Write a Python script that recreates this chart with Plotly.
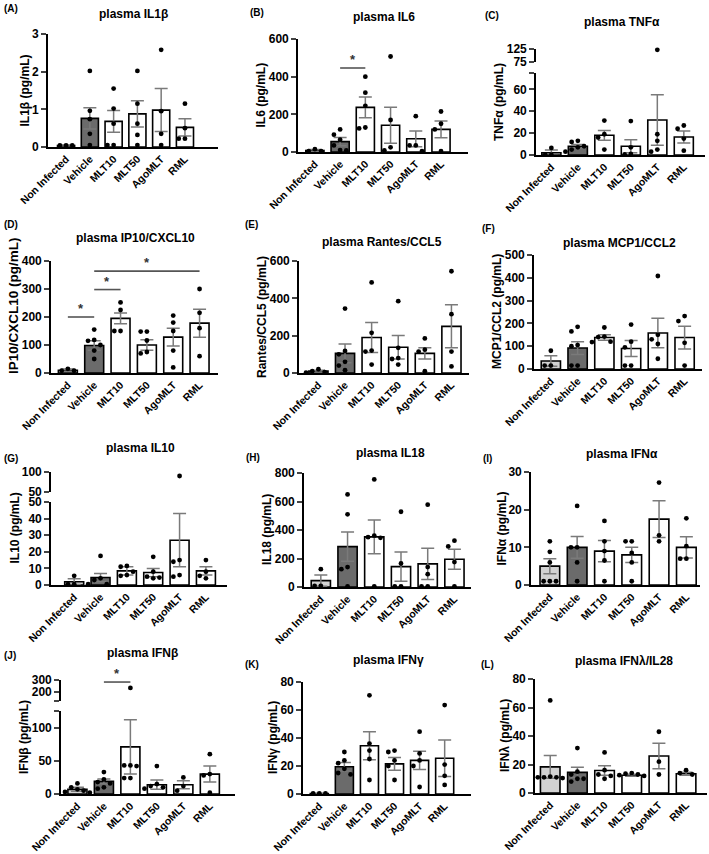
import plotly.graph_objects as go

W, H = 709, 854
groups = ["Non Infected", "Vehicle", "MLT10", "MLT50", "AgoMLT", "RML"]

# ---------------- data ----------------
il1b_mean = [0.04, 0.76, 0.68, 0.88, 0.98, 0.52]
il1b_sem = [0.01, 0.28, 0.29, 0.35, 0.57, 0.23]
il1b_pts = [[0.04, 0.04, 0.04], [2.02, 0.96, 0.74, 0.35, 0.05], [1.55, 1.02, 0.62, 0.05, 0.05],
            [2.02, 1.15, 0.62, 0.32, 0.05], [2.58, 0.95, 0.35, 0.05], [1.15, 0.5, 0.22, 0.22]]

il6_mean = [8, 55, 237, 142, 70, 120]
il6_sem = [5, 22, 55, 96, 42, 45]
il6_pts = [[15, 5, 5], [120, 92, 65, 35, 10, 8], [400, 315, 245, 130, 125],
           [507, 170, 25, 8], [190, 35, 35, 5], [215, 150, 120, 5]]

tnf_mean = [2, 8, 18, 8, 32, 16.5]
tnf_sem = [2.5, 1.5, 4.5, 6, 23, 5.5]
tnf_pts = [[6.5, 0.3, 0.3], [13, 12, 8, 7, 5, 3], [31.5, 19, 16, 5],
           [31, 7, 1, 0.5], [122, 19, 13, 5, 3], [27, 24, 15, 4]]

ip10_mean = [10, 98, 195, 100, 128, 178]
ip10_sem = [4, 17, 19, 19, 32, 50]
ip10_pts = [[15, 8, 8], [155, 118, 115, 100, 80, 50], [252, 225, 150, 150],
            [148, 148, 116, 75, 70], [205, 180, 150, 80, 20], [300, 215, 160, 60]]

rantes_mean = [10, 105, 190, 138, 105, 250]
rantes_sem = [5, 50, 80, 63, 30, 115]
rantes_pts = [[20, 10, 5, 2], [345, 118, 100, 60, 40, 15], [485, 215, 120, 115, 45],
              [385, 135, 80, 75, 45], [185, 125, 115, 10], [545, 315, 115, 35]]

mcp1_mean = [35, 92, 138, 90, 158, 138]
mcp1_sem = [23, 28, 12, 35, 65, 50]
mcp1_pts = [[80, 15, 15], [185, 165, 105, 100, 15, 15], [182, 142, 140, 120, 118],
            [195, 120, 95, 15, 15], [408, 150, 130, 110, 45], [232, 210, 115, 15]]

il10_mean = [2, 4.5, 8.5, 7.5, 27, 8.5]
il10_sem = [1.7, 2.5, 2.5, 2.5, 16, 2.5]
il10_pts = [[5.5, 0.5, 0.5], [17.5, 4, 3, 0.5, 0.5], [11.5, 11, 8, 6, 5.5],
            [17, 8, 5, 4.5, 4], [90, 15, 14, 6, 5], [15, 8, 5.5, 4]]

il18_mean = [45, 283, 352, 143, 162, 195]
il18_sem = [40, 103, 118, 102, 110, 70]
il18_pts = [[125, 8, 8], [650, 510, 140, 125, 5], [755, 360, 350, 345, 5],
            [528, 165, 5, 5], [578, 140, 90, 5, 5], [325, 285, 175, 5]]

ifna_mean = [5, 10, 9, 8, 17.5, 10]
ifna_sem = [2, 2.9, 2.8, 2, 4.9, 2.8]
ifna_pts = [[11.6, 8.8, 6, 1, 1, 1], [21, 10, 10, 6, 1], [17, 11.6, 9, 6.5, 1],
            [11.6, 11.6, 8.5, 6, 1], [27.2, 13.2, 11.6], [17.7, 10.3, 7, 7]]

ifnb_mean = [7, 19, 71, 14, 14, 30]
ifnb_sem = [3, 3.5, 41, 7, 6, 12]
ifnb_pts = [[16, 10, 7, 5, 3, 2], [33, 22, 18, 16, 10, 8], [234, 43, 43, 42, 24, 24],
            [42, 15, 12, 10, 8], [25, 12, 5], [60, 30, 28, 2]]

ifng_mean = [0.3, 19.5, 34.5, 21.5, 24, 25.5]
ifng_sem = [0, 3, 10, 4.5, 6.5, 13]
ifng_pts = [[0.5, 0.5, 0.5], [30, 24, 22, 18, 15, 14], [70.5, 36, 31, 25, 10],
            [31, 30, 24, 20, 10], [44.5, 29, 24, 20, 5], [63.5, 21, 13, 6.5]]

ifnl_mean = [18.3, 14.5, 15.8, 12.5, 26, 13.5]
ifnl_sem = [8, 3.5, 3.3, 0.7, 9, 1]
ifnl_pts = [[65, 11.5, 11, 11, 11, 10.5], [31.5, 15, 13, 10, 10, 8], [28.5, 16, 13, 12, 10],
            [14, 13.5, 13, 12.5, 12], [43, 22, 13], [16, 14, 13]]

# significance brackets: (group i, group j, value, segment index)
ip10_sig = [(0, 1, 200, 0), (1, 2, 298, 0), (1, 5, 364, 0)]
il6_sig = [(1, 2, 446, 0)]
ifnb_sig = [(1, 2, 283, 1)]

# ---------------- layout of panels (pixel geometry) ----------------
panels = [
    dict(letter="(A)", title="plasma IL1β", ytitle="IL1β (pg/mL)", mean=il1b_mean, sem=il1b_sem, pts=il1b_pts,
         xl=48, xr=218, xrng=(-0.76, 6.39), segs=[(0, 3, 147, 34, [0, 1, 2, 3], None)],
         lpos=(2, 8), tpos=(133, 14), sig=[]),
    dict(letter="(B)", title="plasma IL6", ytitle="IL6 (pg/mL)", mean=il6_mean, sem=il6_sem, pts=il6_pts,
         xl=298, xr=468, xrng=(-0.67, 6.07), segs=[(0, 600, 152, 39, [0, 200, 400, 600], None)],
         lpos=(248, 12), tpos=(384, 17), sig=il6_sig),
    dict(letter="(C)", title="plasma TNFα", ytitle="TNFα (pg/mL)", mean=tnf_mean, sem=tnf_sem, pts=tnf_pts,
         xl=536, xr=705, xrng=(-0.58, 5.8),
         segs=[(0, 75, 155, 73, [0, 20, 40, 60, 75], ["0", "20", "40", "60", ""]),
               (75, 125, 62, 49, [75, 125], ["75", "125"])], lpos=(483, 15), tpos=(622, 22), sig=[]),
    dict(letter="(D)", title="plasma IP10/CXCL10", ytitle="IP10/CXCL10 (pg/mL)", mean=ip10_mean, sem=ip10_sem,
         pts=ip10_pts, xl=51, xr=218, xrng=(-0.64, 5.7), segs=[(0, 400, 373, 261, [0, 100, 200, 300, 400], None)],
         lpos=(2, 225), tpos=(135, 238), sig=ip10_sig, ysz=13.5, ycen=306),
    dict(letter="(E)", title="plasma Rantes/CCL5", ytitle="Rantes/CCL5 (pg/mL)", mean=rantes_mean, sem=rantes_sem,
         pts=rantes_pts, xl=299, xr=469, xrng=(-0.73, 5.66), segs=[(0, 600, 373, 261, [0, 200, 400, 600], None)],
         lpos=(243, 225), tpos=(382, 242), sig=[]),
    dict(letter="(F)", title="plasma MCP1/CCL2", ytitle="MCP1/CCL2 (pg/mL)", mean=mcp1_mean, sem=mcp1_sem,
         pts=mcp1_pts, xl=534, xr=702, xrng=(-0.63, 5.65),
         segs=[(0, 500, 369, 255, [0, 100, 200, 300, 400, 500], None)], lpos=(480, 228), tpos=(619, 243), sig=[]),
    dict(letter="(G)", title="plasma IL10", ytitle="IL10 (pg/mL)", mean=il10_mean, sem=il10_sem, pts=il10_pts,
         xl=51, xr=227, xrng=(-0.88, 5.8), segs=[(0, 50, 585, 502, [0, 10, 20, 30, 40, 50], None),
                                                  (50, 100, 492, 472, [50, 100], None)],
         lpos=(2, 458), tpos=(140, 448), sig=[]),
    dict(letter="(H)", title="plasma IL18", ytitle="IL18 (pg/mL)", mean=il18_mean, sem=il18_sem, pts=il18_pts,
         xl=304, xr=471, xrng=(-0.63, 5.62), segs=[(0, 800, 587, 473, [0, 200, 400, 600, 800], None)],
         lpos=(244, 457), tpos=(390, 453), sig=[]),
    dict(letter="(I)", title="plasma IFNα", ytitle="IFNα (pg/mL)", mean=ifna_mean, sem=ifna_sem, pts=ifna_pts,
         xl=531, xr=700, xrng=(-0.69, 5.5), segs=[(0, 30, 585, 472, [0, 10, 20, 30], None)],
         lpos=(481, 458), tpos=(622, 454), sig=[]),
    dict(letter="(J)", title="plasma IFNβ", ytitle="IFNβ (pg/mL)", mean=ifnb_mean, sem=ifnb_sem, pts=ifnb_pts,
         xl=61, xr=235, xrng=(-0.62, 5.95),
         segs=[(0, 125, 794, 711, [0, 50, 100, 125], ["0", "50", "100", ""]),
               (125, 300, 701, 680, [125, 200, 300], ["", "200", "300"])], lpos=(2, 655), tpos=(142, 653),
         sig=ifnb_sig),
    dict(letter="(K)", title="plasma IFNγ", ytitle="IFNγ (pg/mL)", mean=ifng_mean, sem=ifng_sem, pts=ifng_pts,
         xl=303, xr=471, xrng=(-0.65, 6.05), segs=[(0, 80, 794, 682, [0, 20, 40, 60, 80], None)],
         lpos=(243, 664), tpos=(388, 660), sig=[]),
    dict(letter="(L)", title="plasma IFNλ/IL28", ytitle="IFNλ (pg/mL)", mean=ifnl_mean, sem=ifnl_sem, pts=ifnl_pts,
         xl=535, xr=707, xrng=(-0.56, 5.77), segs=[(0, 80, 793, 679, [0, 20, 40, 60, 80], None)],
         lpos=(479, 664), tpos=(624, 661), sig=[]),
]

FONT = "Liberation Sans, Arial, Helvetica, sans-serif"
bar_fill = ["#d2d2d2", "#6b6b6b", "white", "white", "white", "white"]
DOT = 4.8
STEP = 6.2

fig = go.Figure()
layout = dict(template="none", width=W, height=H, margin=dict(l=0, r=0, t=0, b=0, pad=0, autoexpand=False),
              showlegend=False, paper_bgcolor="white", plot_bgcolor="rgba(0,0,0,0)",
              font=dict(family=FONT, color="black"), bargap=0.28)
annotations = []
shapes = []


def sid(n):
    return "" if n == 1 else str(n)


def px_of(v, segs):
    for lo, hi, pb, pt, *_ in segs:
        if v <= hi or (lo, hi) == segs[-1][:2]:
            return (H - pb) + (min(v, hi) - lo) / (hi - lo) * (pb - pt)
    return 0


def swarm(vals, segs, px_per_x):
    placed = []
    res = [0.0] * len(vals)
    order = sorted(range(len(vals)), key=lambda k: -vals[k])
    for k in order:
        y = px_of(vals[k], segs)
        xo = 0
        for m in [0, -1, 1, -2, 2, -3, 3, -4, 4]:
            xo = m * STEP
            if all((xo - a) ** 2 + (y - b) ** 2 >= (STEP * 0.95) ** 2 for a, b in placed):
                break
        placed.append((xo, y))
        res[k] = xo / px_per_x
    return res


xc = 0
yc = 0
for p in panels:
    xc += 1
    xid = sid(xc)
    segs = p["segs"]
    xr0, xr1 = p["xrng"]
    yids = []
    for _ in segs:
        yc += 1
        yids.append(sid(yc))
    lower = yids[0]
    layout["xaxis" + xid] = dict(domain=[p["xl"] / W, p["xr"] / W], range=[xr0, xr1], anchor="y" + lower,
                                 tickmode="array", tickvals=list(range(6)), ticktext=groups, tickangle=-45,
                                 tickfont=dict(size=10.5, family=FONT, weight="bold"), showline=True, linewidth=1.6,
                                 linecolor="black", ticks="", ticklabelstandoff=0,
                                 showgrid=False, zeroline=False, fixedrange=True, automargin=False)
    for (lo, hi, pb, pt, tv, tt), yid in zip(segs, yids):
        ax = dict(domain=[1 - pb / H, 1 - pt / H], range=[lo, hi], anchor="x" + xid, showline=True, linewidth=1.6,
                  linecolor="black", ticks="outside", ticklen=5, tickwidth=1.6, showgrid=False, zeroline=False,
                  tickmode="array", tickvals=tv, tickfont=dict(size=12, family=FONT, weight="bold"),
                  fixedrange=True, automargin=False)
        ax["ticktext"] = tt if tt is not None else [str(v) for v in tv]
        layout["yaxis" + yid] = ax

    # bars with SEM error bars
    fig.add_trace(go.Bar(x=list(range(6)), y=p["mean"], xaxis="x" + xid, yaxis="y" + lower,
                         marker=dict(color=bar_fill, line=dict(color="black", width=1.6)),
                         error_y=dict(type="data", array=p["sem"], visible=True, color="#7a7a7a",
                                      thickness=1.5, width=6.5)))

    # individual points
    px_per_x = (p["xr"] - p["xl"]) / (xr1 - xr0)
    seg_x = [[] for _ in segs]
    seg_y = [[] for _ in segs]
    for g, vals in enumerate(p["pts"]):
        offs = swarm(vals, segs, px_per_x)
        for v, o in zip(vals, offs):
            si = 0
            for k, s in enumerate(segs):
                if k > 0 and v > s[0]:
                    si = k
            seg_x[si].append(g + o)
            seg_y[si].append(v)
    for k, yid in enumerate(yids):
        if seg_x[k]:
            fig.add_trace(go.Scatter(x=seg_x[k], y=seg_y[k], mode="markers", xaxis="x" + xid, yaxis="y" + yid,
                                     marker=dict(color="black", size=DOT), cliponaxis=False, hoverinfo="skip"))

    # significance bars
    for i, j, v, si in p["sig"]:
        yid = yids[si]
        shapes.append(dict(type="line", xref="x" + xid, yref="y" + yid, x0=i, x1=j, y0=v, y1=v,
                           line=dict(color="#555555", width=1.6)))
        annotations.append(dict(x=(i + j) / 2, y=v, xref="x" + xid, yref="y" + yid, text="<b>*</b>",
                                showarrow=False, yanchor="bottom", yshift=-1, font=dict(size=13, color="#333333")))

    # titles / labels
    annotations.append(dict(x=p["tpos"][0] / W, y=1 - p["tpos"][1] / H, xref="paper", yref="paper",
                            text="<b>" + p["title"] + "</b>", showarrow=False, xanchor="center", yanchor="middle",
                            font=dict(size=12, family=FONT)))
    annotations.append(dict(x=p["lpos"][0] / W, y=1 - p["lpos"][1] / H, xref="paper", yref="paper",
                            text="<b>" + p["letter"] + "</b>", showarrow=False, xanchor="left", yanchor="middle",
                            font=dict(size=10, family=FONT)))
    maxlen = max(len(t) for s in segs for t in (s[5] if s[5] is not None else [str(v) for v in s[4]]))
    yt_x = p["xl"] - (7 * maxlen + 16)
    yt_y = p.get("ycen", (segs[0][2] + segs[-1][3]) / 2)
    annotations.append(dict(x=yt_x / W, y=1 - yt_y / H, xref="paper", yref="paper", textangle=-90,
                            text="<b>" + p["ytitle"] + "</b>", showarrow=False, xanchor="center", yanchor="middle",
                            font=dict(size=p.get("ysz", 12), family=FONT)))

layout["annotations"] = annotations
layout["shapes"] = shapes
fig.update_layout(**layout)
fig.write_html("out.html", config={"displayModeBar": False},
               post_script="document.body.style.margin='0';document.body.style.overflow='hidden';")
